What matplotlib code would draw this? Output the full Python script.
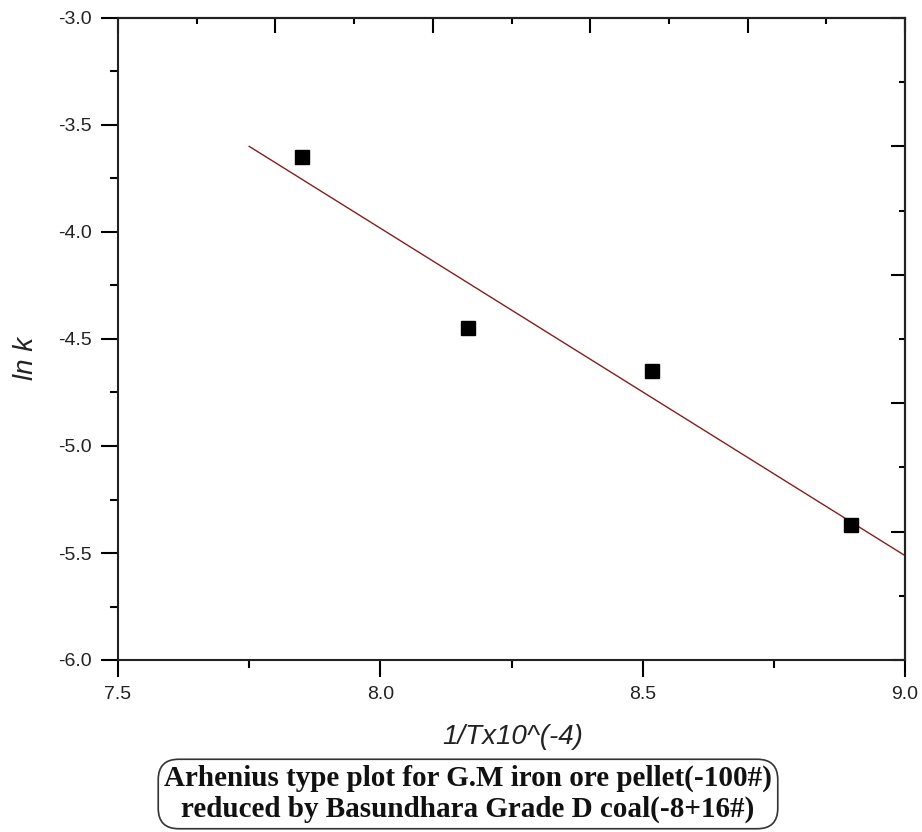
import numpy as np
import matplotlib
matplotlib.use("Agg")
import matplotlib.pyplot as plt
from matplotlib.ticker import MultipleLocator, FormatStrFormatter

# Data
inv_T = [7.85, 8.167, 8.518, 8.897]        # 1/T x10^(-4)
ln_k = [-3.65, -4.45, -4.65, -5.37]
fit_range = [7.75, 9.0]

x_label = "1/Tx10^(-4)"
y_label = "ln k"
caption = ("Arhenius type plot for G.M iron ore pellet(-100#)\n"
           "reduced by Basundhara Grade D coal(-8+16#)")

fig = plt.figure(figsize=(9.22, 8.32), dpi=100)
ax = fig.add_axes([118/922, 1-660/832, (905-118)/922, (660-18)/832])

slope, intercept = np.polyfit(inv_T, ln_k, 1)
xf = np.array(fit_range)
ax.plot(xf, slope*xf + intercept, color="#8a1c1c", lw=1.0, zorder=2)
ax.plot(inv_T, ln_k, linestyle="none", marker="s", markersize=9.5,
        color="black", zorder=3)

ax.set_xlim(7.5, 9.0)
ax.set_ylim(-6.0, -3.0)

for s in ax.spines.values():
    s.set_linewidth(1.5)
    s.set_color("#222222")

ax.xaxis.set_major_locator(MultipleLocator(0.5))
ax.xaxis.set_minor_locator(MultipleLocator(0.25))
ax.yaxis.set_major_locator(MultipleLocator(0.5))
ax.yaxis.set_minor_locator(MultipleLocator(0.25))
ax.tick_params(which="major", direction="out", length=12, width=1.5,
               labelsize=14, top=False, right=False, pad=7)
ax.tick_params(which="minor", direction="out", length=6, width=1.5,
               top=False, right=False)
ax.xaxis.set_major_formatter(FormatStrFormatter("%.1f"))
ax.yaxis.set_major_formatter(FormatStrFormatter("%.1f"))
for lbl in ax.get_xticklabels() + ax.get_yticklabels():
    lbl.set_family("Liberation Sans")
    lbl.set_color("#222222")

# Top and right axes with their own inward ticks (as in the original)
top = ax.secondary_xaxis("top")
top.xaxis.set_major_locator(MultipleLocator(0.3))
top.xaxis.set_minor_locator(MultipleLocator(0.15))
top.tick_params(which="major", direction="in", length=11, width=1.5, labeltop=False)
top.tick_params(which="minor", direction="in", length=4, width=1.5)
top.spines["top"].set_linewidth(1.5)
top.spines["top"].set_color("#222222")

right = ax.secondary_yaxis("right")
right.yaxis.set_major_locator(MultipleLocator(0.6))
right.yaxis.set_minor_locator(MultipleLocator(0.3))
right.tick_params(which="major", direction="in", length=10, width=1.5, labelright=False)
right.tick_params(which="minor", direction="in", length=4, width=1.5)
right.spines["right"].set_linewidth(1.5)
right.spines["right"].set_color("#222222")

fig.text(513/922, 1-737/832, x_label, ha="center", va="center",
         fontsize=20, style="italic", family="Liberation Sans", color="#222222")
fig.text(26/922, 1-358/832, y_label, ha="center", va="center", rotation=90,
         fontsize=20, style="italic", family="Liberation Sans", color="#222222")

fig.text(468/922, 1-794/832, caption, ha="center", va="center",
         fontsize=21, fontweight="bold", family="Liberation Serif",
         linespacing=1.15, color="#111111",
         bbox=dict(boxstyle="round,pad=0.2,rounding_size=0.7",
                   facecolor="white", edgecolor="#333333", linewidth=1.2))

fig.savefig("out.png", dpi=100)
